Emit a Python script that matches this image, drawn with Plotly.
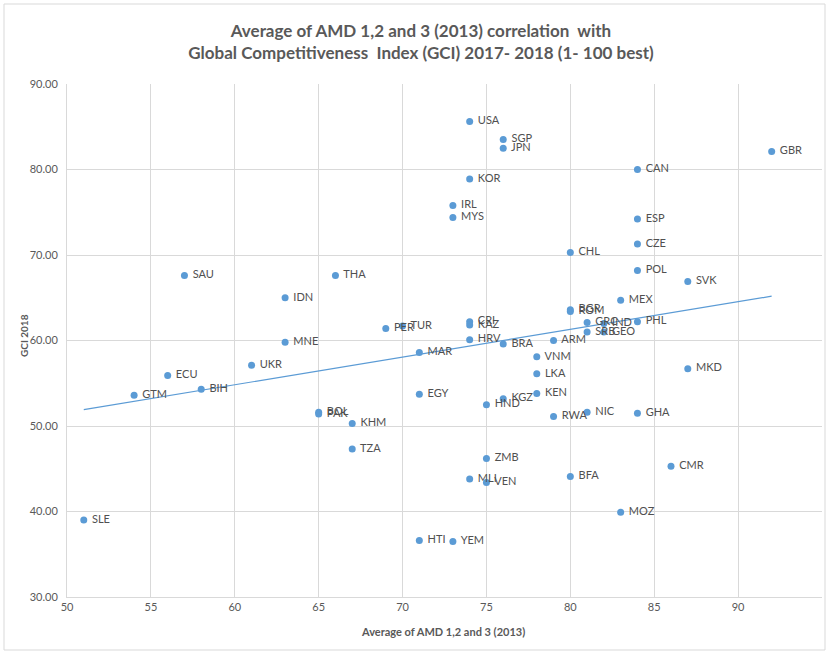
import numpy as np
import plotly.graph_objects as go

# Country codes, average AMD 1-3 (2013) and GCI 2017-2018 scores
countries = ["USA", "SGP", "JPN", "GBR", "CAN", "KOR", "IRL", "MYS", "ESP", "CZE",
             "CHL", "SAU", "THA", "POL", "SVK", "IDN", "MEX", "BGR", "ROM", "CRI",
             "KAZ", "PER", "TUR", "GRC", "IND", "SRB", "GEO", "PHL", "HRV", "BRA",
             "ARM", "MNE", "VNM", "MAR", "UKR", "MKD", "LKA", "ECU", "BIH", "GTM",
             "KEN", "EGY", "KGZ", "HND", "NIC", "GHA", "RWA", "BOL", "PAK", "KHM",
             "TZA", "ZMB", "CMR", "BFA", "MLI", "VEN", "MOZ", "SLE", "HTI", "YEM"]
amd_avg = [74, 76, 76, 92, 84, 74, 73, 73, 84, 84,
           80, 57, 66, 84, 87, 63, 83, 80, 80, 74,
           74, 69, 70, 81, 82, 81, 82, 84, 74, 76,
           79, 63, 78, 71, 61, 87, 78, 56, 58, 54,
           78, 71, 76, 75, 81, 84, 79, 65, 65, 67,
           67, 75, 86, 80, 74, 75, 83, 51, 71, 73]
gci_2018 = [85.6, 83.5, 82.5, 82.1, 80.0, 78.9, 75.8, 74.4, 74.2, 71.3,
            70.3, 67.6, 67.6, 68.2, 66.9, 65.0, 64.7, 63.6, 63.4, 62.2,
            61.8, 61.4, 61.7, 62.1, 62.0, 61.0, 61.0, 62.2, 60.1, 59.6,
            60.0, 59.8, 58.1, 58.6, 57.1, 56.7, 56.1, 55.9, 54.3, 53.6,
            53.8, 53.7, 53.2, 52.5, 51.6, 51.5, 51.1, 51.6, 51.4, 50.3,
            47.3, 46.2, 45.3, 44.1, 43.8, 43.4, 39.9, 39.0, 36.6, 36.5]

x_ticks = list(range(50, 100, 5))
y_ticks = list(range(30, 100, 10))

BLUE = "#5B9BD5"
GRID = "#D9D9D9"
TEXT = "#595959"
FONT = "Lato, Open Sans, Arial, sans-serif"

x = np.array(amd_avg, dtype=float)
y = np.array(gci_2018, dtype=float)

# Ordinary least-squares linear trendline over the data range
slope, intercept = np.polyfit(x, y, 1)
trend_x = np.array([x.min(), x.max()])
trend_y = slope * trend_x + intercept

fig = go.Figure()

fig.add_trace(go.Scatter(
    x=trend_x, y=trend_y, mode="lines",
    line=dict(color=BLUE, width=1.2),
    hoverinfo="skip", showlegend=False,
))

fig.add_trace(go.Scatter(
    x=amd_avg, y=gci_2018, text=countries,
    texttemplate="\u00a0%{text}",
    mode="markers+text", textposition="middle right",
    marker=dict(color=BLUE, size=7),
    textfont=dict(family=FONT, size=11, color="#505050"),
    showlegend=False,
))

W, H = 828, 654
ML, MR, MT, MB = 67, 6, 84, 57
pw, ph = W - ML - MR, H - MT - MB

fig.update_layout(
    width=W, height=H,
    margin=dict(l=ML, r=MR, t=MT, b=MB, autoexpand=False),
    paper_bgcolor="white", plot_bgcolor="white",
    showlegend=False,
    font=dict(family=FONT, color=TEXT),
    title=dict(
        text="<b>Average of AMD 1,2 and 3 (2013) correlation  with<br>"
             "Global Competitiveness  Index (GCI) 2017- 2018 (1- 100 best)</b>",
        x=421 / W, xanchor="center", y=1 - 37 / H, yanchor="middle",
        font=dict(family=FONT, size=17, color=TEXT),
    ),
    xaxis=dict(
        range=[50, 95], tickvals=x_ticks, ticktext=[str(v) for v in x_ticks],
        showgrid=True, gridcolor=GRID, gridwidth=1,
        showline=True, linecolor=GRID, linewidth=1, automargin=False,
        zeroline=False, ticks="", tickfont=dict(size=11, color=TEXT),
    ),
    yaxis=dict(
        range=[30, 90], tickvals=y_ticks, ticktext=[f"{v:.2f}" for v in y_ticks],
        showgrid=True, gridcolor=GRID, gridwidth=1,
        showline=True, linecolor=GRID, linewidth=1, automargin=False,
        zeroline=False, ticks="", tickfont=dict(size=11, color=TEXT),
        ticklabelstandoff=6,
    ),
)

# Axis titles
fig.add_annotation(
    text="<b>Average of AMD 1,2 and 3 (2013)</b>", xref="paper", yref="paper",
    x=(443 - ML) / pw, y=-(631 - MT - ph) / ph, showarrow=False,
    xanchor="center", yanchor="middle", font=dict(size=11, color=TEXT),
)
fig.add_annotation(
    text="<b>GCI 2018</b>", xref="paper", yref="paper", textangle=-90,
    x=(24 - ML) / pw, y=1 - (336 - MT) / ph, showarrow=False,
    xanchor="center", yanchor="middle", font=dict(size=10, color=TEXT),
)

# Thin chart-area border
fig.add_shape(
    type="rect", xref="paper", yref="paper",
    x0=(4 - ML) / pw, x1=(W - 3 - ML) / pw,
    y0=-(H - 4 - MT - ph) / ph, y1=1 + (MT - 4) / ph,
    line=dict(color="#D9D9D9", width=1), fillcolor="rgba(0,0,0,0)", layer="below",
)

fig.write_html("out.html")
